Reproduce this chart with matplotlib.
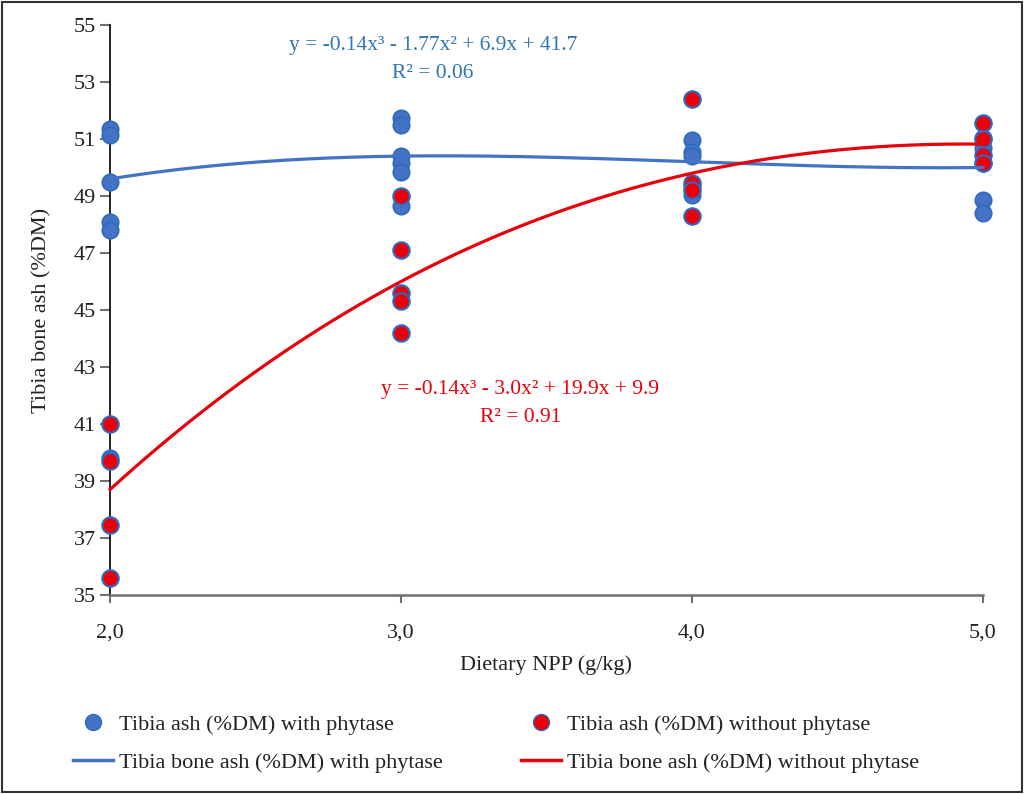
import numpy as np
import matplotlib
matplotlib.use("Agg")
import matplotlib.pyplot as plt
from matplotlib.lines import Line2D
from matplotlib.patches import Rectangle

# ---------------- data ----------------
npp_levels = [2.0, 3.0, 4.0, 5.0]
x_tick_labels = ["2,0", "3,0", "4,0", "5,0"]
y_ticks = [35, 37, 39, 41, 43, 45, 47, 49, 51, 53, 55]

with_x = [2, 2, 2, 2, 2, 2,
          3, 3, 3, 3, 3, 3,
          4, 4, 4, 4, 4,
          5, 5, 5, 5, 5]
with_y = [51.35, 51.15, 49.5, 48.1, 47.8, 39.8,
          51.75, 51.5, 50.4, 50.15, 49.85, 48.65,
          50.95, 50.55, 50.4, 49.35, 49.05,
          51.05, 50.7, 50.15, 48.85, 48.4]

without_x = [2, 2, 2, 2,
             3, 3, 3, 3, 3,
             4, 4, 4, 4,
             5, 5, 5, 5]
without_y = [41.0, 39.7, 37.45, 35.6,
             49.0, 47.1, 45.6, 45.3, 44.2,
             52.4, 49.45, 49.2, 48.3,
             51.55, 51.0, 50.45, 50.15]

# polynomial (order 3) trend line values read at the NPP levels
trend_with = [49.6, 50.4, 50.2, 50.0]
trend_without = [38.7, 46.0, 49.8, 50.82]

eq_with = ["y = -0.14x³ - 1.77x² + 6.9x + 41.7", "R² = 0.06"]
eq_without = ["y = -0.14x³ - 3.0x² + 19.9x + 9.9", "R² = 0.91"]

BLUE = "#4472C4"
BLUE_EDGE = "#2E6BC0"
RED = "#E8000B"
BLUE_TXT = "#2E75B6"
TXT = "#222222"
FS = 16
EQ_FS = 15.5

plt.rcParams["font.family"] = ["Liberation Serif", "DejaVu Serif"]

fig = plt.figure(figsize=(10.24, 7.94), dpi=100)
ax = fig.add_axes([110/1024, 1 - 595/794, 873/1024, 570/794])

xs = np.linspace(2, 5, 200)
cw = np.polyfit(npp_levels, trend_with, 3)
cwo = np.polyfit(npp_levels, trend_without, 3)

ms = 140
ax.scatter(with_x, with_y, s=ms, c=BLUE, edgecolors=BLUE_EDGE, linewidths=1.2,
           zorder=3, clip_on=False)
ax.scatter(without_x, without_y, s=ms, c=RED, edgecolors=BLUE_EDGE, linewidths=1.5,
           zorder=4, clip_on=False)
ax.plot(xs, np.polyval(cw, xs), color=BLUE, lw=2.3, zorder=5, clip_on=False)
ax.plot(xs, np.polyval(cwo, xs), color=RED, lw=2.3, zorder=5, clip_on=False)

ax.set_xlim(2, 5)
ax.set_ylim(35, 55)
ax.set_xticks(npp_levels)
ax.set_xticklabels(x_tick_labels)
ax.set_yticks(y_ticks)
ax.set_yticklabels([str(v) for v in y_ticks])

for s in ["top", "right"]:
    ax.spines[s].set_visible(False)
ax.spines["left"].set_color("black")
ax.spines["left"].set_linewidth(1.2)
ax.spines["bottom"].set_color("#707070")
ax.spines["bottom"].set_linewidth(1.8)
ax.tick_params(axis="y", direction="out", length=7, width=1.5, color="#707070",
               labelsize=FS, labelcolor=TXT, pad=3)
ax.tick_params(axis="x", direction="out", length=6, width=1.5, color="#707070",
               labelsize=FS, labelcolor=TXT, pad=14.5)

ax.set_xlabel("Dietary NPP (g/kg)", fontsize=FS, color=TXT, labelpad=9.5)
ax.set_ylabel("Tibia bone ash (%DM)", fontsize=FS, color=TXT, labelpad=16)

ax.text(3.11, 54.27, eq_with[0], ha="center", va="center", color=BLUE_TXT, fontsize=EQ_FS)
ax.text(3.11, 53.29, eq_with[1], ha="center", va="center", color=BLUE_TXT, fontsize=EQ_FS)
ax.text(3.41, 42.2, eq_without[0], ha="center", va="center", color=RED, fontsize=EQ_FS)
ax.text(3.41, 41.22, eq_without[1], ha="center", va="center", color=RED, fontsize=EQ_FS)

handles = [
    Line2D([], [], marker="o", ls="none", markersize=11.5, markerfacecolor=BLUE,
           markeredgecolor=BLUE_EDGE),
    Line2D([], [], color=BLUE, lw=2.5),
    Line2D([], [], marker="o", ls="none", markersize=11.5, markerfacecolor=RED,
           markeredgecolor=BLUE_EDGE),
    Line2D([], [], color=RED, lw=2.5),
]
labels = ["Tibia ash (%DM) with phytase", "Tibia bone ash (%DM) with phytase",
          "Tibia ash (%DM) without phytase", "Tibia bone ash (%DM) without phytase"]
fig.legend(handles, labels, ncol=2, loc="upper left",
           bbox_to_anchor=(62/1024, 1 - 703/794), frameon=False, fontsize=FS,
           borderpad=0, handlelength=1.8, handletextpad=0.27, columnspacing=3.5,
           labelspacing=0.8, labelcolor=TXT)

fig.add_artist(Rectangle((0.0015, 0.002), 0.997, 0.996, transform=fig.transFigure,
                         fill=False, edgecolor="#333333", lw=1.5))

fig.savefig("out.png", dpi=100)
